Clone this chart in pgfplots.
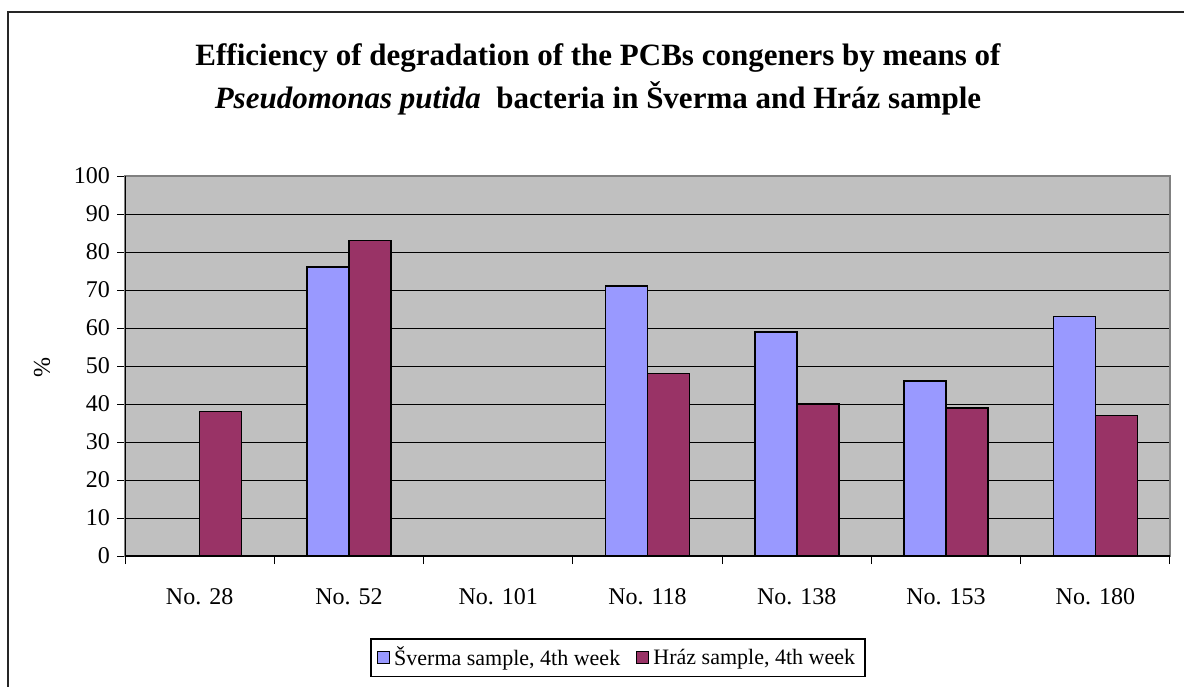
\documentclass[border=0pt]{standalone}
\usepackage{fontspec}
\setmainfont{Liberation Serif}
\usepackage{pgfplots}
\pgfplotsset{compat=1.18}
\definecolor{sverma}{RGB}{153,153,255}
\definecolor{hraz}{RGB}{153,51,102}
\definecolor{plotbg}{RGB}{192,192,192}
\definecolor{bordergray}{RGB}{128,128,128}
\begin{document}
\begin{tikzpicture}[x=1pt,y=1pt]
\begin{axis}[
  at={(62.5pt,-278pt)}, anchor=south west,
  scale only axis, width=522.5pt, height=190pt,
  xmin=-0.5, xmax=6.5, ymin=0, ymax=100,
  ytick={0,10,...,100},
  xtick={-0.5,0.5,...,6.5},
  x tick label as interval,
  xticklabels={No. 28,No. 52,No. 101,No. 118,No. 138,No. 153,No. 180},
  xtick pos=bottom, ytick pos=left,
  tick align=outside,
  major tick length=4pt,
  tick style={black, line width=0.5pt},
  axis line style={draw=bordergray, line width=0.6pt},
  axis background/.style={fill=plotbg},
  ymajorgrids, grid style={black, line width=0.5pt},
  /pgf/number format/assume math mode=true,
  ticklabel style={font=\fontsize{12}{14}\selectfont},
  xticklabel style={yshift=-8pt, text height=8.5pt, text depth=2.5pt},
  ylabel={\%},
  ylabel style={at={(axis description cs:-0.0794,0.497)}, anchor=center, font=\fontsize{12}{14}\selectfont},
  ybar=0pt, bar width=21pt,
  legend columns=2,
  legend style={at={(0.4718,-0.268)}, anchor=center, draw=black, line width=0.6pt,
    font=\fontsize{11}{13}\selectfont, inner xsep=3pt, inner ysep=2pt,
    /tikz/every even column/.append style={column sep=6pt}},
  legend image code/.code={\draw[#1,line width=0.6pt] (0pt,-3pt) rectangle (6pt,3pt);},
]
\addplot[fill=sverma, draw=black, line width=0.75pt] coordinates {(0,0) (1,76) (2,0) (3,71) (4,59) (5,46) (6,63)};
\addplot[fill=hraz, draw=black, line width=0.75pt] coordinates {(0,38) (1,83) (2,0) (3,48) (4,40) (5,39) (6,37)};
\legend{{Šverma sample, 4th week}, {Hráz sample, 4th week}}
\draw[bordergray, line width=0.6pt] (rel axis cs:0,1) -- (rel axis cs:1,1) -- (rel axis cs:1,0);
\draw[black, line width=0.6pt] (rel axis cs:0,1) -- (rel axis cs:0,0) -- (rel axis cs:1,0);
\end{axis}
\node[align=center, font=\fontsize{15.5}{21.5}\selectfont\bfseries] at (299pt,-39.5pt)
  {Efficiency of degradation of the PCBs congeners by means of\\ \textit{Pseudomonas putida}\ \ bacteria in Šverma and Hráz sample};
\draw[black!85, line width=0.75pt] (4pt,-6pt) rectangle (620pt,-360pt);
\pgfresetboundingbox
\useasboundingbox (0pt,0pt) rectangle (592pt,-343pt);
\end{tikzpicture}
\end{document}
